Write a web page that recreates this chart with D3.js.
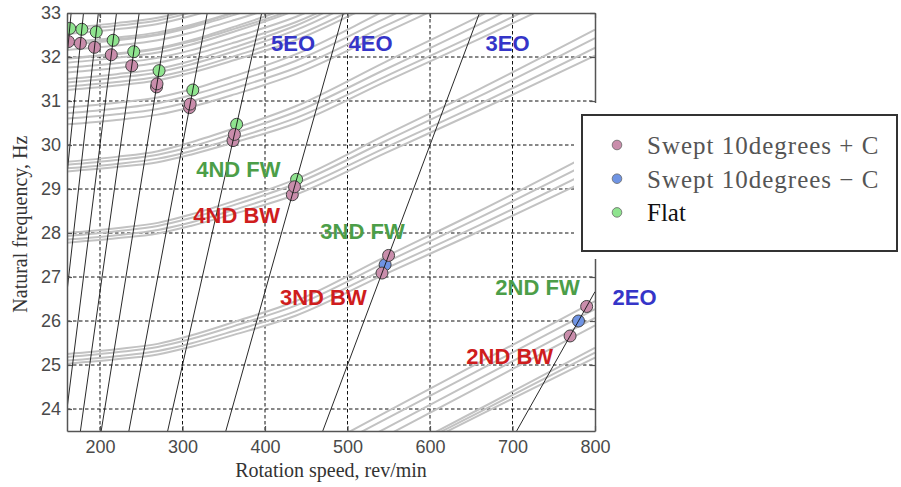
<!DOCTYPE html>
<html>
<head>
<meta charset="utf-8">
<script src="https://cdn.jsdelivr.net/npm/d3@7"></script>
<style>
  body { margin: 0; background: #fff; }
  svg { display: block; }
</style>
</head>
<body>
<svg id="chart" width="901" height="487"></svg>
<script>
const speedGrid = [160, 220, 270, 310, 363, 437, 545, 660, 800];

// natural frequency lines (Hz) at speedGrid, grouped by nodal diameter family
const lowBand = [
  [19.05, 19.65, 20.14, 20.54, 21.06, 21.80, 22.87, 24.00, 25.39],
  [19.12, 19.70, 20.18, 20.57, 21.08, 21.79, 22.83, 23.93, 25.28],
  [19.17, 19.73, 20.20, 20.57, 21.07, 21.76, 22.78, 23.86, 25.17]
];
const nd2 = [
  [20.07, 20.67, 21.17, 21.57, 22.09, 22.83, 23.91, 25.06, 26.45],
  [19.96, 20.55, 21.04, 21.44, 21.96, 22.69, 23.76, 24.89, 26.27],
  [19.75, 20.34, 20.83, 21.23, 21.75, 22.48, 23.55, 24.69, 26.07],
  [19.55, 20.15, 20.64, 21.04, 21.57, 22.30, 23.37, 24.51, 25.90]
];
const nd3 = [
  [25.25, 25.36, 25.48, 25.67, 25.98, 26.45, 27.45, 28.50, 29.85],
  [25.18, 25.29, 25.41, 25.59, 25.89, 26.35, 27.32, 28.35, 29.66],
  [25.10, 25.20, 25.32, 25.49, 25.78, 26.22, 27.18, 28.18, 29.46],
  [25.03, 25.13, 25.24, 25.41, 25.69, 26.12, 27.06, 28.04, 29.28]
];
const nd4 = [
  [28.00, 28.11, 28.23, 28.42, 28.73, 29.22, 30.22, 31.27, 32.62],
  [27.93, 28.04, 28.16, 28.34, 28.64, 29.12, 30.08, 31.11, 32.43],
  [27.85, 27.95, 28.07, 28.24, 28.53, 28.99, 29.93, 30.93, 32.21],
  [27.78, 27.88, 27.99, 28.16, 28.44, 28.87, 29.81, 30.79, 32.03]
];
const nd5 = [
  [29.62, 29.73, 29.86, 30.06, 30.38, 30.88, 31.88, 32.93, 34.30],
  [29.55, 29.66, 29.78, 29.96, 30.27, 30.75, 31.71, 32.74, 34.05],
  [29.47, 29.57, 29.69, 29.86, 30.15, 30.61, 31.55, 32.55, 33.83],
  [29.40, 29.50, 29.61, 29.78, 30.06, 30.49, 31.43, 32.41, 33.65]
];
const nd6 = [
  [30.85, 30.96, 31.08, 31.26, 31.57, 32.06, 33.05, 34.10, 35.45],
  [30.72, 30.83, 30.95, 31.13, 31.43, 31.91, 32.87, 33.90, 35.20],
  [30.60, 30.70, 30.82, 30.99, 31.29, 31.75, 32.70, 33.70, 35.00],
  [30.47, 30.57, 30.69, 30.86, 31.15, 31.61, 32.55, 33.55, 34.82]
];
const nd7 = [
  [31.50, 31.61, 31.73, 31.91, 32.22, 32.71, 33.70, 34.75, 36.10],
  [31.42, 31.53, 31.65, 31.83, 32.13, 32.61, 33.57, 34.60, 35.90],
  [31.33, 31.43, 31.55, 31.72, 32.02, 32.48, 33.43, 34.43, 35.70],
  [31.25, 31.35, 31.47, 31.64, 31.93, 32.38, 33.32, 34.30, 35.55]
];
const nd8 = [
  [31.97, 32.08, 32.20, 32.38, 32.69, 33.18, 34.17, 35.20, 36.60],
  [31.87, 31.98, 32.10, 32.28, 32.58, 33.06, 34.02, 35.00, 36.40],
  [31.76, 31.86, 31.98, 32.15, 32.45, 32.91, 33.86, 34.90, 36.20],
  [31.65, 31.75, 31.87, 32.04, 32.33, 32.79, 33.73, 34.70, 36.00]
];
const nd9 = [
  [32.29, 32.40, 32.52, 32.70, 33.01, 33.50, 34.50, 35.50, 36.90],
  [31.96, 32.06, 32.18, 32.35, 32.64, 33.10, 34.05, 35.05, 36.40]
];
const nd10 = [
  [32.52, 32.63, 32.75, 32.93, 33.24, 33.73, 34.70, 35.70, 37.10],
  [32.16, 32.26, 32.38, 32.55, 32.84, 33.30, 34.25, 35.25, 36.60]
];
const nd11 = [
  [32.60, 32.71, 32.83, 33.01, 33.32, 33.80, 34.80, 35.80, 37.20],
  [32.28, 32.38, 32.50, 32.67, 32.96, 33.42, 34.35, 35.35, 36.70]
];
const nd12 = [
  [32.66, 32.77, 32.89, 33.07, 33.38, 33.86, 34.85, 35.85, 37.25],
  [32.34, 32.44, 32.56, 32.73, 33.02, 33.48, 34.40, 35.40, 36.75]
];

// engine orders drawn as excitation lines
const engineOrders = [2, 3, 4, 5, 6, 7, 8, 9, 10, 11, 12];

// measured crossings [speed rev/min, frequency Hz]
const sweptPlusC = [
  [161.75, 32.35], [176.2, 32.31], [193.3, 32.22], [213.7, 32.05], [238.5, 31.80],
  [268.5, 31.32], [269.1, 31.39], [308.5, 30.85], [309.3, 30.93],
  [361.2, 30.10], [362.9, 30.24], [433.1, 28.87], [435.8, 29.05],
  [541.8, 27.09], [549.8, 27.49], [769.8, 25.66], [789.9, 26.33]
];
const sweptMinusC = [[545.6, 27.28], [780.0, 26.00]];
const flat = [
  [163.25, 32.65], [178.0, 32.63], [195.4, 32.57], [215.9, 32.38], [240.9, 32.12],
  [271.6, 31.69], [312.5, 31.25], [365.6, 30.47], [438.3, 29.22]
];

const seriesNames = ['Swept 10degrees + C', 'Swept 10degrees \u2212 C', 'Flat'];

// annotation text and where it sits [speed, frequency]
const labelTexts = ['5EO', '4EO', '3EO', '2EO', '4ND FW', '4ND BW', '3ND FW', '3ND BW', '2ND FW', '2ND BW'];
const labelSpots = [[434, 32.14], [528, 32.14], [694, 32.14], [848, 26.36], [367.7, 29.28],
  [365.7, 28.23], [518.2, 27.86], [470.7, 26.36], [730.3, 26.59], [696.6, 25.02]];

const xTicks = [200, 300, 400, 500, 600, 700, 800];
const yTicks = [24, 25, 26, 27, 28, 29, 30, 31, 32, 33];

// ---------------------------------------------------------------
const svg = d3.select('#chart');
const margin = { top: 13, left: 67 };
const width = 528, height = 418;

const x = d3.scaleLinear().domain([160, 800]).range([0, width]);
const y = d3.scaleLinear().domain([23.5, 33]).range([height, 0]);

const g = svg.append('g').attr('transform', `translate(${margin.left},${margin.top})`);

g.append('clipPath').attr('id', 'plot-clip')
  .append('rect').attr('width', width).attr('height', height);

const plot = g.append('g').attr('clip-path', 'url(#plot-clip)');

// dashed grid
plot.append('g')
  .selectAll('line.vgrid')
  .data(xTicks.filter(d => d < 800))
  .enter().append('line')
  .attr('x1', d => x(d)).attr('x2', d => x(d))
  .attr('y1', 0).attr('y2', height)
  .attr('stroke', '#111').attr('stroke-width', 1).attr('stroke-dasharray', '3.5,2.5');
plot.append('g')
  .selectAll('line.hgrid')
  .data(yTicks.filter(d => d < 33))
  .enter().append('line')
  .attr('y1', d => y(d)).attr('y2', d => y(d))
  .attr('x1', 0).attr('x2', width)
  .attr('stroke', '#111').attr('stroke-width', 1).attr('stroke-dasharray', '3.5,2.5');

// mode lines
const modeLine = d3.line()
  .x((d, i) => x(speedGrid[i]))
  .y(d => y(d))
  .curve(d3.curveMonotoneX);

const allModes = [].concat(lowBand, nd2, nd3, nd4, nd5, nd6, nd7, nd8, nd9, nd10, nd11, nd12);
plot.append('g')
  .selectAll('path')
  .data(allModes)
  .enter().append('path')
  .attr('d', modeLine)
  .attr('fill', 'none')
  .attr('stroke', '#c2c2c2')
  .attr('stroke-width', 2);

// markers
const markerFill = ['#c98dab', '#6f94e4', '#8fe48f'];
const markerSets = [flat, sweptMinusC, sweptPlusC];
const markerColor = [markerFill[2], markerFill[1], markerFill[0]];
markerSets.forEach((set, k) => {
  plot.append('g')
    .selectAll('circle')
    .data(set)
    .enter().append('circle')
    .attr('cx', d => x(d[0]))
    .attr('cy', d => y(d[1]))
    .attr('r', 6)
    .attr('fill', markerColor[k])
    .attr('stroke', '#444')
    .attr('stroke-width', 1);
});

// engine order lines
plot.append('g')
  .selectAll('line')
  .data(engineOrders)
  .enter().append('line')
  .attr('x1', x(150)).attr('y1', k => y(k * 150 / 60))
  .attr('x2', x(800)).attr('y2', k => y(k * 800 / 60))
  .attr('stroke', '#111')
  .attr('stroke-width', 0.9);

// frame and inward ticks
const axisStyle = sel => {
  sel.select('.domain').attr('stroke', '#555').attr('stroke-width', 1.5);
  sel.selectAll('.tick line').attr('stroke', '#555').attr('stroke-width', 1.2);
  sel.selectAll('text')
    .attr('fill', '#4a4a4a')
    .style('font-family', '"Liberation Sans", Arial, sans-serif')
    .style('font-size', '18px');
};

g.append('g')
  .call(d3.axisLeft(y).tickValues(yTicks).tickSizeInner(-5).tickSizeOuter(0).tickPadding(6).tickFormat(d3.format('d')))
  .call(axisStyle);
g.append('g')
  .attr('transform', `translate(0,${height})`)
  .call(d3.axisBottom(x).tickValues(xTicks).tickSizeInner(-5).tickSizeOuter(0).tickPadding(9).tickFormat(d3.format('d')))
  .call(axisStyle);
g.append('g')
  .call(d3.axisTop(x).tickValues(xTicks).tickSizeInner(-5).tickSizeOuter(0).tickFormat(''))
  .call(axisStyle);
g.append('g')
  .attr('transform', `translate(${width},0)`)
  .call(d3.axisRight(y).tickValues(yTicks).tickSizeInner(-5).tickSizeOuter(0).tickFormat(''))
  .call(axisStyle);

// axis titles
svg.append('text')
  .attr('x', margin.left + x(480))
  .attr('y', 477)
  .attr('text-anchor', 'middle')
  .attr('fill', '#333')
  .style('font-family', '"Liberation Serif", "Times New Roman", serif')
  .style('font-size', '20px')
  .text('Rotation speed, rev/min');

svg.append('text')
  .attr('transform', `translate(27,${margin.top + y(28.2)}) rotate(-90)`)
  .attr('text-anchor', 'middle')
  .attr('fill', '#333')
  .style('font-family', '"Liberation Serif", "Times New Roman", serif')
  .style('font-size', '20px')
  .text('Natural frequency, Hz');

// annotations
const labelColor = t => t.indexOf('EO') >= 0 ? '#3535c8' : (t.indexOf('FW') >= 0 ? '#4c9e48' : '#cf1d1d');
g.append('g')
  .selectAll('text')
  .data(labelTexts)
  .enter().append('text')
  .attr('x', (t, i) => x(labelSpots[i][0]))
  .attr('y', (t, i) => y(labelSpots[i][1]))
  .attr('text-anchor', 'middle')
  .attr('fill', labelColor)
  .style('font-family', '"Liberation Sans", Arial, sans-serif')
  .style('font-weight', 'bold')
  .style('font-size', '22px')
  .text(t => t);

// legend, pasted over the right part of the plot
svg.append('rect')
  .attr('x', 574).attr('y', 103).attr('width', 327).attr('height', 156)
  .attr('fill', '#fff');

const legend = svg.append('g').attr('transform', 'translate(582,115)');
legend.append('rect')
  .attr('width', 315).attr('height', 136)
  .attr('fill', '#fff')
  .attr('stroke', '#333')
  .attr('stroke-width', 2);

const legendRows = legend.selectAll('g.row')
  .data(seriesNames)
  .enter().append('g')
  .attr('transform', (d, i) => `translate(0,${30 + i * 33.7})`);

legendRows.append('circle')
  .attr('cx', 35).attr('cy', 0).attr('r', 4.8)
  .attr('fill', (d, i) => markerFill[i])
  .attr('stroke', '#666').attr('stroke-width', 0.8);

legendRows.append('text')
  .attr('x', 65).attr('y', 9)
  .attr('fill', (d, i) => i === 2 ? '#111' : '#555')
  .style('font-family', '"Liberation Serif", "Times New Roman", serif')
  .style('font-size', '25px')
  .style('letter-spacing', (d, i) => i === 2 ? '0px' : '1px')
  .text(d => d);
</script>
</body>
</html>
